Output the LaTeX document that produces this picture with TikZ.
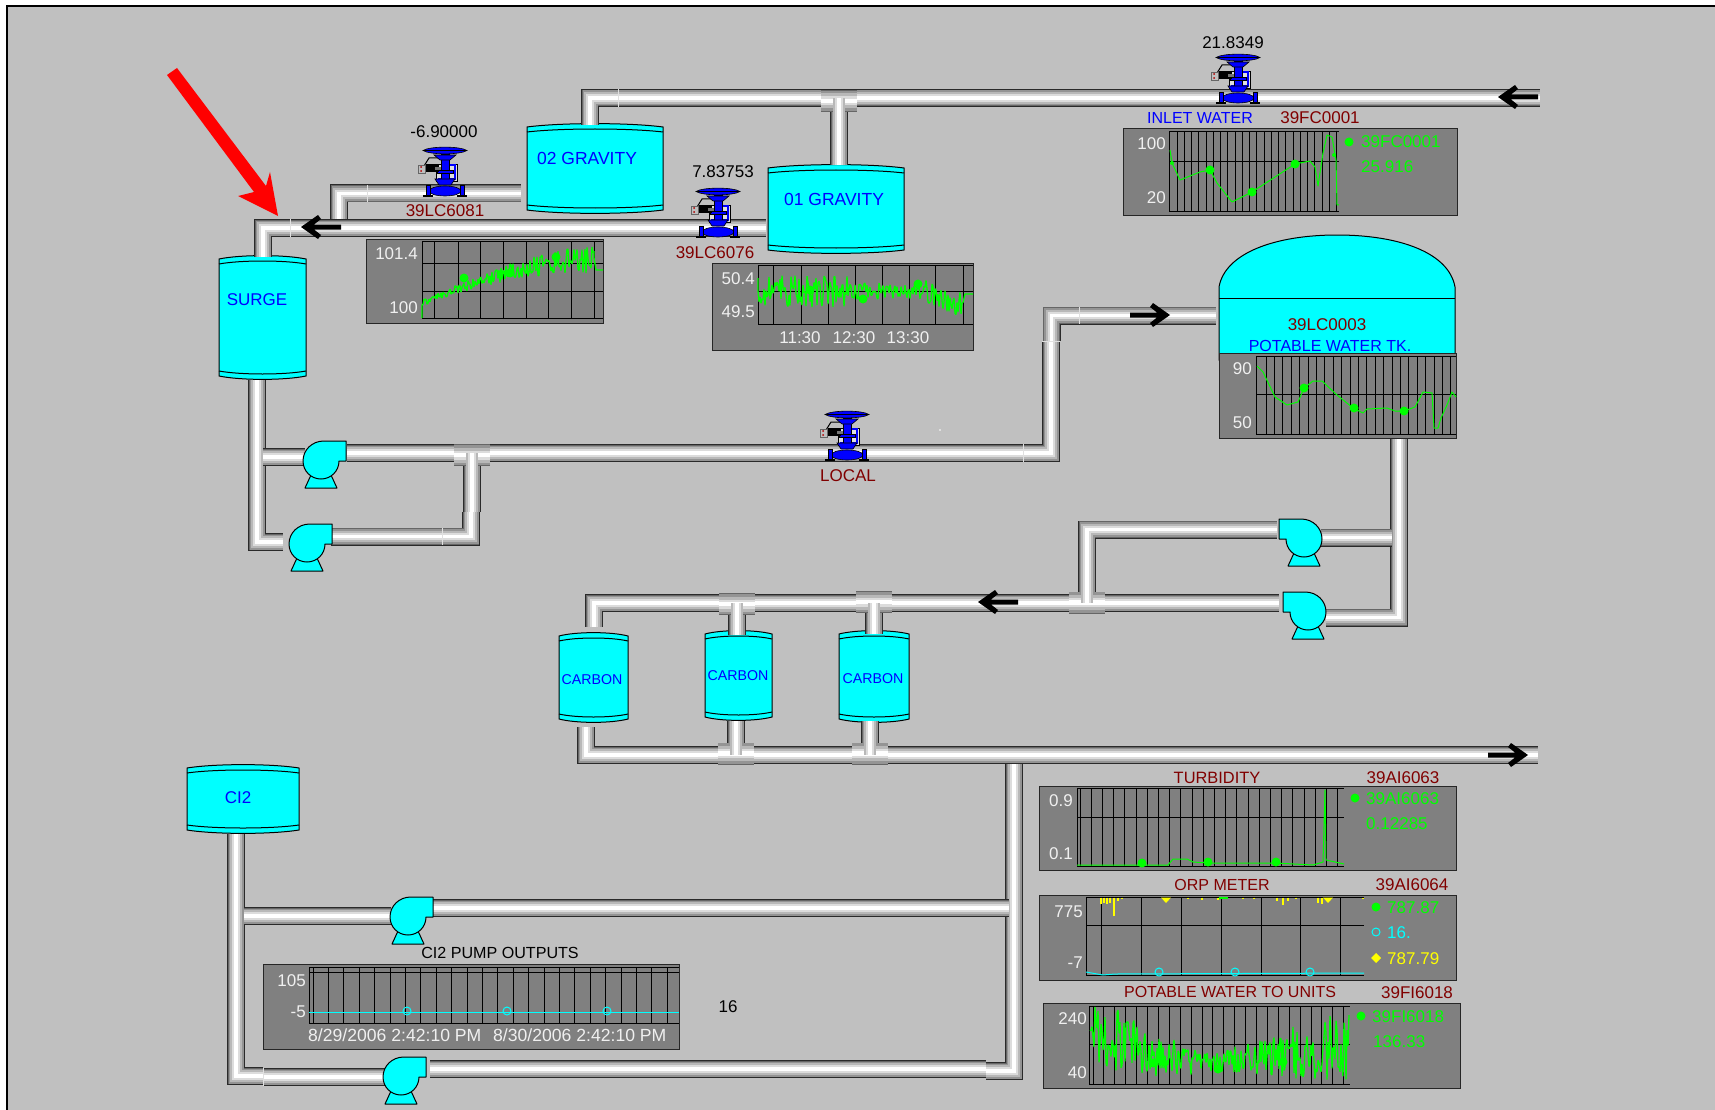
\documentclass[tikz,border=0pt]{standalone}
\usepackage{fontspec}
\setmainfont{Liberation Sans}
\definecolor{bgc}{HTML}{C0C0C0}
\definecolor{panelc}{HTML}{808080}
\definecolor{maroonc}{HTML}{800000}
\definecolor{tankc}{HTML}{00FFFF}
\definecolor{bluec}{HTML}{0000FF}
\definecolor{greenc}{HTML}{00FF00}
\definecolor{yelc}{HTML}{FFFF00}
\definecolor{whtc}{HTML}{F0F0F0}
\definecolor{pA}{HTML}{2A2A2A}
\definecolor{pB}{HTML}{666666}
\definecolor{pC}{HTML}{949494}
\definecolor{pD}{HTML}{B8B8B8}
\definecolor{pE}{HTML}{DCDCDC}
\tikzset{
 lab/.style={inner sep=0pt,text height=12pt,text depth=0pt,font=\fontsize{17}{20}\selectfont},
 fsz/.style={font=\fontsize{#1}{20}\selectfont},
 labk/.style={lab,text=black},
 labm/.style={lab,text=maroonc},
 labb/.style={lab,text=bluec},
 labc/.style={labb,font=\fontsize{14.2}{18}\selectfont},
 labw/.style={lab,text=whtc},
 axl/.style={labw,anchor=east},
 lega/.style={lab,anchor=west},
 tankbody/.style={draw=black,line width=1pt,fill=tankc},
 tankline/.style={draw=black,line width=1pt},
 pumpbody/.style={draw=black,line width=1pt,fill=tankc,line join=round},
 panelbg/.style={draw=black!85,line width=1pt,fill=panelc},
 gridl/.style={draw=black,line width=1pt},
 trend/.style={draw=greenc,line width=1pt,line join=round},
 noisy/.style={draw=greenc,line width=1.3pt,line join=bevel},
 trendc/.style={draw=tankc,line width=1pt},
 vbody/.style={draw=black,line width=.6pt,fill=bluec},
 seamline/.style={draw=black!12,line width=.7pt},
}
\newcommand\pipe[1]{\foreach \w/\c in {18/pA,16.8/pB,15/pC,11.5/pD,7.5/pE,3.6/white}{\draw[line width=\w pt,color=\c,line cap=butt,line join=miter] #1;}}
% x, box centre y, pipe centre y, stem end y
\newcommand\teefit[4]{%
 \pipe{(#1,#3)--(#1,#4)}%
 \foreach \w/\c in {22/pB,20.8/pC,15/pD,9/pE,4.5/white}{\draw[line width=\w pt,color=\c] ({#1-18},#2)--({#1+18},#2);}%
 \foreach \w/\c in {11.5/pD,7.5/pE,3.6/white}{\draw[line width=\w pt,color=\c] (#1,#4)--(#1,#3);}%
}
\newcommand\tank[5]{%
 \coordinate (#1) at ({(#2+#3)/2},{(#4+#5)/2});
 \draw[tankbody] (#2,{#4+4}) .. controls ({#2+(#3-#2)*.25},{#4-.5}) and ({#2+(#3-#2)*.75},{#4-.5}) .. (#3,{#4+4})
   -- (#3,{#5-4}) .. controls ({#2+(#3-#2)*.75},{#5+.5}) and ({#2+(#3-#2)*.25},{#5+.5}) .. (#2,{#5-4}) -- cycle;
 \draw[tankline] (#2,{#4+9}) .. controls ({#2+(#3-#2)*.25},{#4+5}) and ({#2+(#3-#2)*.75},{#4+5}) .. (#3,{#4+9});
 \draw[tankline] (#2,{#5-9}) .. controls ({#2+(#3-#2)*.25},{#5-5}) and ({#2+(#3-#2)*.75},{#5-5}) .. (#3,{#5-9});
}
% name, centre x, centre y, direction of the discharge
\newcommand\pump[4]{%
 \begin{scope}[shift={(#2,#3)},xscale=#4]
 \coordinate (#1) at (0,0);
 \draw[pumpbody] (-10,14)--(-16,27)--(16,27)--(10,14)--cycle;
 \draw[pumpbody] (25,-20)--(3,-20) .. controls (-9,-20) and (-18,-11) .. (-18,0)
   .. controls (-18,10) and (-10,18) .. (0,18) .. controls (10,18) and (18,10) .. (18,0) -- (25,0) -- cycle;
 \end{scope}%
}
% name, centre x, bottom y
\newcommand\valve[3]{%
 \begin{scope}[shift={(#2,#3)}]
 \coordinate (#1) at (0,-24);
 \draw[black,line width=1pt] (-21,-30)--(-16,-38)--(-3,-38);
 \draw[draw=black,line width=.5pt,fill=black!12] (-9,-32) rectangle (12,-15);
 \draw[draw=bluec,line width=2.4pt] (2,-31)--(10,-31)--(10,-17)--(-7,-17);
 \draw[vbody] (-4,-42) rectangle (4,-14);
 \draw[vbody] (-8,-26) rectangle (8,-23);
 \draw[vbody] (-11,-41)--(11,-41)--(5,-36)--(-5,-36)--cycle;
 \draw[vbody] (-22,-45.5) .. controls (-15,-50) and (15,-50) .. (22,-45.5) .. controls (15,-41) and (-15,-41) .. (-22,-45.5) -- cycle;
 \draw[black,line width=.8pt] (-22,-45.5)--(22,-45.5);
 \fill[black] (-19,-32) rectangle (-6,-24);
 \fill[black!55] (-10,-29) rectangle (-4,-26);
 \draw[draw=black!60,fill=black!25,line width=.5pt] (-27,-31) rectangle (-20,-23);
 \fill[red!70!black] (-24,-29) circle [radius=1] (-24,-25) circle [radius=1];
 \draw[vbody] (-10,-17)--(10,-17)--(6,-11)--(-6,-11)--cycle;
 \draw[vbody] (0,-5) ellipse [x radius=16,y radius=5];
 \draw[vbody] (-19,-11) rectangle (-15,0);
 \draw[vbody] (15,-11) rectangle (19,0);
 \draw[black,line width=1.5pt] (-22,0)--(-12,0) (12,0)--(22,0);
 \end{scope}%
}
% x, y, direction: +1 the flow runs to the right (tip at x,y)
\newcommand\flow[3]{%
 \begin{scope}[shift={(#1,#2)},xscale=#3]
 \fill[black] (0,0)--(-17,-12)--(-20,-8)--(-13,-2.5)--(-40,-2.5)--(-40,2.5)--(-13,2.5)--(-20,8)--(-17,12)--cycle;
 \end{scope}%
}
\newcommand\panelbox[5]{\coordinate (#1) at (#2,#3); \draw[panelbg] (#2,#3) rectangle (#4,#5);}
% x1,y1,x2,y2, vertical lines, horizontal lines
\newcommand\plotgrid[6]{%
 \foreach \x in {#5}{\draw[gridl] (\x,#2)--(\x,#4);}%
 \foreach \y in {#6}{\draw[gridl] (#1,\y)--(#3,\y);}%
 \draw[gridl] (#1,#4)--(#1,#2)--(#3,#2) (#1,#4)--(#3,#4);%
}
\newcommand\trdots[1]{\foreach \p in {#1}{\fill[greenc] \p circle [radius=4.5];}}
\begin{document}
\begin{tikzpicture}[x=1pt,y=-1pt]
\useasboundingbox (0,0) rectangle (1715,1110);
\clip (0,0) rectangle (1715,1110);
\fill[white] (0,0) rectangle (1715,1110);
\fill[bgc] (7,6) rectangle (1715,1110);
\draw[black,line width=2.2pt] (7,1110)--(7,6)--(1715,6);
\pgfmathsetseed{4217}

% ---------- tanks
\tank{tkgrav2}{527}{663}{123}{214}
\tank{tkgrav1}{768}{904}{164}{254}
\tank{tksurge}{219}{306}{255}{380}
\tank{tkcarb1}{559}{628}{632}{723}
\tank{tkcarb2}{705}{772}{630}{721}
\tank{tkcarb3}{839}{909}{630}{723}
\tank{tkcl2}{187}{299}{764}{834}
\coordinate (tkpot) at (1337,300);
\draw[tankbody] (1219,360)--(1219,287) .. controls (1225,253) and (1275,235) .. (1337,235)
  .. controls (1400,235) and (1449,253) .. (1455,287)--(1455,360)--cycle;
\draw[tankline] (1219,298)--(1455,298);

% ---------- pipes, upper left
\pipe{(263,257)--(263,228)--(290,228)}
\pipe{(290,228)--(766,228)}
\pipe{(339,219)--(339,193.5)--(367,193.5)}
\pipe{(367,193.5)--(521,193.5)}
\pipe{(590,125)--(590,98)--(618,98)}
\pipe{(618,98)--(1540,98)}
\teefit{839}{101}{98}{165}

% ---------- pipes, surge pumps
\pipe{(257,380)--(257,542)--(283,542)}
\pipe{(263,457)--(305,457)}
\pipe{(347,453)--(1023,453)}
\pipe{(1023,453)--(1051,453)--(1051,434)}
\pipe{(1051,434)--(1051,341)}
\pipe{(1051.5,341)--(1051.5,315.5)--(1079,315.5)}
\pipe{(1079,315.5)--(1216,315.5)}
\pipe{(331,536.5)--(442,536.5)}
\pipe{(442,536.5)--(471,536.5)--(471,512)}
\pipe{(472,512)--(472,480)}
\teefit{472}{455}{453}{482}

% ---------- pipes, potable tank pumps
\pipe{(1399,438)--(1399,617.5)--(1370,617.5)}
\pipe{(1370,617.5)--(1326,617.5)}
\pipe{(1321,537.5)--(1392,537.5)}
\pipe{(1277,529.5)--(1114,529.5)}
\pipe{(1114,529.5)--(1087,529.5)--(1087,547)}
\pipe{(1087,547)--(1087,576)}
\pipe{(1279,603)--(622,603)}
\pipe{(622,603)--(594,603)--(594,627)}
\teefit{1087}{602.5}{603}{576}
\teefit{737}{604}{603}{635}
\teefit{874}{602}{603}{634}

% ---------- pipes, carbon outlet and CI2
\pipe{(1014,762)--(1014,1045)}
\pipe{(586,727)--(586,755)--(613,755)}
\pipe{(613,755)--(1538,755)}
\teefit{736}{753.5}{755}{721}
\teefit{870}{753.5}{755}{721}
\pipe{(428,908)--(1009,908)}
\pipe{(430,1069)--(986,1069)}
\pipe{(986,1071)--(1014,1071)--(1014,1045)}
\pipe{(236,834)--(236,1076)--(263,1076)}
\pipe{(263,1077)--(385,1077)}
\pipe{(244,916)--(391,916)}

% ---------- seams between pipe pieces
\draw[seamline] (290,219)--(290,237) (367,185)--(367,202) (618,89)--(618,107)
  (1079,307)--(1079,324) (1042,341)--(1060,341) (1023,444)--(1023,462)
  (263,1068)--(263,1086) (442,528)--(442,545);

% ---------- pumps
\pump{pump1}{321}{461}{1}
\pump{pump2}{307}{544}{1}
\pump{pump3}{1304}{539}{-1}
\pump{pump4}{1308}{612}{-1}
\pump{pump5}{408}{917}{1}
\pump{pump6}{401}{1077}{1}

% ---------- valves
\valve{valveA}{445}{196}
\valve{valveB}{718}{237}
\valve{valveC}{1238}{103}
\valve{valveD}{847}{460}

% ---------- flow arrows
\flow{301}{227}{-1}
\flow{1498}{97}{-1}
\flow{978}{602}{-1}
\flow{1170}{315}{1}
\flow{1528}{755}{1}

% ---------- red pointer
\fill[red] (167,75)--(177,68)--(266,186)--(270,172)--(278,216)--(238,196)--(254,192)--cycle;

% ---------- panel 39LC6081
\panelbox{panA}{366}{239}{603}{323}
\plotgrid{422}{241}{603}{318}{434,458,480,503,526,548,571,594}{263,291}
\draw[noisy] (422,318)--(422,305) \foreach \x in {423,424,...,594}{-- (\x,{303-43*sin(90*(\x-422)/172)+(3+11*(\x-422)/172)*rand})} -- (594,258)--(596,270)--(603,270);
\trdots{(464,278),(510,273),(556,257)}
\node[axl] (tA1) at (418,253) {101.4};
\node[axl] (tA2) at (418,307) {100};

% ---------- panel 39LC6076
\panelbox{panB}{712}{263}{973}{350}
\plotgrid{758}{265}{973}{324}{773,801,828,855,882,909,935,963}{291}
\draw[noisy] (758,278)--(758,291) \foreach \x in {759,760,...,963}{-- (\x,{291+max(0,(\x-925)/38)*14+(\x<850?17:(\x<925?8:13))*rand})} -- (965,294)--(973,294);
\trdots{(810,290),(863,299),(918,284)}
\node[axl] (tB1) at (755,278) {50.4};
\node[axl] (tB2) at (755,311) {49.5};
\node[labw] (tB3) at (800,337) {11:30};
\node[labw] (tB4) at (854,337) {12:30};
\node[labw] (tB5) at (908,337) {13:30};

% ---------- panel 39FC0001
\panelbox{panC}{1123}{129}{1457}{215}
\plotgrid{1169}{132}{1339}{211}{1177,1184.25,...,1339}{162}
\draw[trend] (1170,150)--(1172,163)--(1180,180)--(1200,172)--(1210,170)--(1217,183)--(1232,202)--(1252,192)--(1295,164)--(1310,161)--(1315,167)--(1318,186)--(1323,153)--(1327,135)--(1332,137)--(1336,160)--(1337,205)--(1339,205);
\trdots{(1210,170),(1252,192),(1295,164)}
\fill[greenc] (1172,163) circle [radius=2] (1334,155) circle [radius=2];
\node[axl] (tC1) at (1166,144) {100};
\node[axl] (tC2) at (1166,198) {20};
\fill[greenc] (1349,142) circle [radius=4.5];
\node[lega,text=greenc] (tC3) at (1361,142) {39FC0001};
\node[lega,text=greenc] (tC4) at (1361,167) {25.916};

% ---------- panel 39LC0003
\panelbox{panD}{1219}{353}{1456}{438}
\plotgrid{1256}{356}{1456}{434}{1266,1274.4,...,1456}{394}
\draw[trend] (1257,366)--(1263,372)--(1275,397)--(1287,405)--(1298,402)--(1304,388)--(1313,381)--(1322,381)--(1337,395)--(1353,408)--(1363,413)--(1367,409)--(1387,408)--(1395,411)--(1404,411)--(1415,407)--(1423,392)--(1432,393)--(1434,428)--(1438,428)--(1441,418)--(1447,405)--(1452,392)--(1456,397);
\trdots{(1304,388),(1354,408),(1404,411)}
\node[axl] (tD1) at (1252,368) {90};
\node[axl] (tD2) at (1252,422) {50};

% ---------- panel turbidity
\panelbox{panE}{1039}{786}{1456}{870}
\plotgrid{1077}{788}{1344}{866}{1080,1091.2,...,1344}{817}
\draw[trend] (1077,865)--(1168,865)--(1173,859)--(1187,859)--(1193,862)--(1208,863)--(1275,863)--(1313,865)--(1323,862)--(1325,790)--(1326,860)--(1344,864);
\trdots{(1142,863),(1208,862),(1276,862)}
\node[axl] (tE1) at (1073,800) {0.9};
\node[axl] (tE2) at (1073,853) {0.1};
\fill[greenc] (1355,798) circle [radius=4.5];
\node[lega,text=greenc] (tE3) at (1366,798) {39AI6063};
\node[lega,text=greenc] (tE4) at (1366,823) {0.12285};

% ---------- panel ORP
\panelbox{panF}{1039}{895}{1456}{980}
\plotgrid{1086}{897}{1364}{975}{1101,1141,1181,1221,1261,1300,1340}{925}
\foreach \x/\y in {1101/904,1104/903,1107/904,1110/903,1114/916,1118/901,1122/899,1188/899,1202/900,1218/900,1243/899,1254/899,1277/901,1283/905,1288/901,1296/899,1318/903,1322/904,1363/899}{\draw[yelc,line width=1.4pt] (\x,897.5)--(\x,\y);}
\fill[yelc] (1161,897.5)--(1171,897.5)--(1166,903)--cycle (1323,897.5)--(1333,897.5)--(1328,903)--cycle;
\draw[greenc,line width=1.6pt] (1219,898)--(1228,898);
\draw[trendc] (1086,972)--(1103,975)--(1115,974)--(1364,973);
\foreach \x in {1159,1235,1310}{\draw[trendc] (\x,972) circle [radius=4];}
\node[axl] (tF1) at (1083,911) {775};
\node[axl] (tF2) at (1083,962) {-7};
\fill[greenc] (1376,907) circle [radius=4.5];
\node[lega,text=greenc] (tF3) at (1387,907) {787.87};
\draw[trendc] (1376,932) circle [radius=4];
\node[lega,text=tankc] (tF4) at (1387,932) {16.};
\fill[yelc] (1371,958)--(1376,953)--(1381,958)--(1376,963)--cycle;
\node[lega,text=yelc] (tF5) at (1387,958) {787.79};

% ---------- panel potable water
\panelbox{panG}{1043}{1003}{1460}{1088}
\plotgrid{1089}{1006}{1350}{1084}{1093,1103.9,...,1350}{1044}
\draw[noisy] (1090,1030) \foreach \x in {1091,1092,...,1349}{-- (\x,{min(1083,max(1007,(\x<1215?1062-36*((\x-1215)/125)^2:1062-14*(\x-1215)/125)+(9+28*abs(\x-1215)/125)*rand))})};
\trdots{(1153,1063),(1218,1069),(1283,1062)}
\node[axl] (tG1) at (1087,1018) {240};
\node[axl] (tG2) at (1087,1072) {40};
\fill[greenc] (1361,1016) circle [radius=4.5];
\node[lega,text=greenc] (tG3) at (1372,1016) {39FI6018};
\node[lega,text=greenc] (tG4) at (1373,1041) {136.33};

% ---------- panel CI2
\panelbox{panH}{263}{964}{679}{1049}
\plotgrid{309}{967}{679}{1023}{313,328.4,...,679}{972}
\draw[trendc] (309,1012)--(679,1012);
\foreach \x in {407,507,607}{\draw[trendc] (\x,1011) circle [radius=4];}
\node[axl] (tH1) at (306,980) {105};
\node[axl] (tH2) at (306,1011) {-5};
\node[labw,anchor=west,fsz=17.6] (tH3) at (308,1035) {8/29/2006 2:42:10 PM};
\node[labw,anchor=west,fsz=17.6] (tH4) at (493,1035) {8/30/2006 2:42:10 PM};

% ---------- tank and pipe labels
\node[labb,fsz=17.5] (lgrav2) at (587,159) {02 GRAVITY};
\node[labb,fsz=17.5] (lgrav1) at (834,200) {01 GRAVITY};
\node[labb] (lsurge) at (257,299) {SURGE};
\node[labc] (lcarb1) at (592,678) {CARBON};
\node[labc] (lcarb2) at (738,674) {CARBON};
\node[labc] (lcarb3) at (873,677) {CARBON};
\node[labb] (lcl2) at (238,797) {CI2};
\node[labm] (lpot1) at (1327,324) {39LC0003};
\node[labb,fsz=16] (lpot2) at (1330,345) {POTABLE WATER TK.};
\node[labk] (vA1) at (444,132) {-6.90000};
\node[labm] (vA2) at (445,210) {39LC6081};
\node[labk] (vB1) at (723,172) {7.83753};
\node[labm] (vB2) at (715,252) {39LC6076};
\node[labk] (vC1) at (1233,43) {21.8349};
\node[labb,fsz=16] (vC2) at (1200,118) {INLET WATER};
\node[labm] (vC3) at (1320,118) {39FC0001};
\node[labm] (vD1) at (848,475) {LOCAL};
\node[labk,fsz=16.1] (hd1) at (500,952) {CI2 PUMP OUTPUTS};
\node[labk] (hd2) at (728,1006) {16};
\node[labm,fsz=16.4] (hd3) at (1217,777) {TURBIDITY};
\node[labm] (hd4) at (1403,777) {39AI6063};
\node[labm,fsz=16] (hd5) at (1222,884) {ORP METER};
\node[labm] (hd6) at (1412,884) {39AI6064};
\node[labm,fsz=16] (hd7) at (1230,991) {POTABLE WATER TO UNITS};
\node[labm] (hd8) at (1417,992) {39FI6018};
\fill[white] (940,430) circle [radius=.8];
\end{tikzpicture}
\end{document}
